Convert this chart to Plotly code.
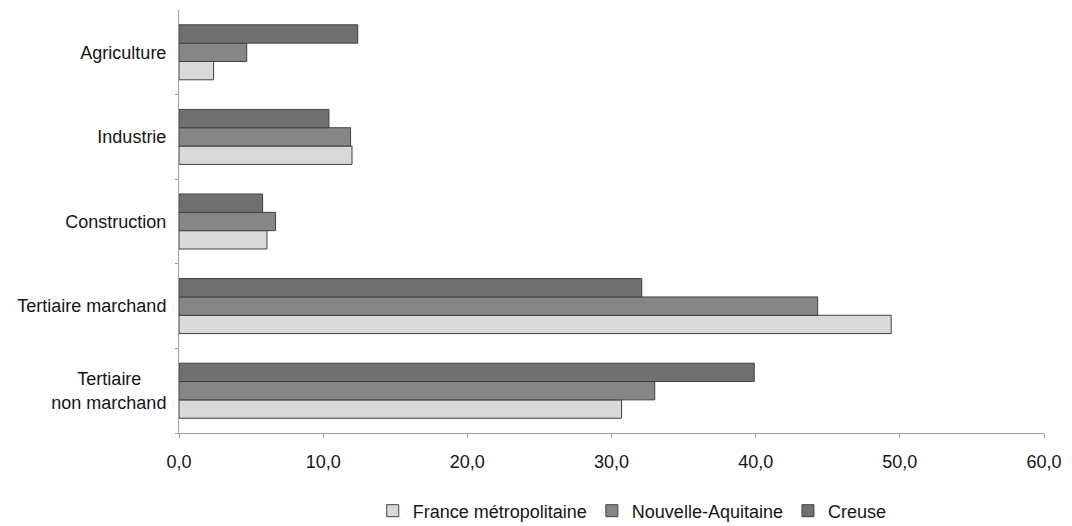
import plotly.graph_objects as go

categories = ["Agriculture", "Industrie", "Construction", "Tertiaire marchand", "Tertiaire non marchand"]
cat_labels = ["Agriculture", "Industrie", "Construction", "Tertiaire marchand",
              "Tertiaire\u00a0\u00a0\u00a0\u00a0\u00a0<br>non marchand"]
france = [2.4, 12.0, 6.1, 49.4, 30.7]
nouvelle_aquitaine = [4.7, 11.9, 6.7, 44.3, 33.0]
creuse = [12.4, 10.4, 5.8, 32.1, 39.9]
x_ticks = [0, 10, 20, 30, 40, 50, 60]
x_ticklabels = ["0,0", "10,0", "20,0", "30,0", "40,0", "50,0", "60,0"]

series = [
    ("France métropolitaine", france, "#d9d9d9"),
    ("Nouvelle-Aquitaine", nouvelle_aquitaine, "#868686"),
    ("Creuse", creuse, "#707070"),
]

fig = go.Figure()
for name, vals, col in series:
    fig.add_trace(go.Bar(
        y=categories, x=vals, name=name, orientation="h",
        marker=dict(color=col, line=dict(color="#404040", width=1)),
    ))

fig.update_layout(
    width=1072, height=526,
    margin=dict(l=179, r=26, t=10, b=93),
    paper_bgcolor="white", plot_bgcolor="white",
    barmode="group", bargap=0.35, bargroupgap=0,
    font=dict(family="Liberation Sans, Arial, sans-serif", size=18, color="#151515"),
    legend=dict(orientation="h", x=0.524, xanchor="center",
                yref="container", y=1 - 511 / 526, yanchor="middle",
                font=dict(size=18), traceorder="normal", itemwidth=30),
    xaxis=dict(range=[0, 60], tickvals=x_ticks, ticktext=x_ticklabels,
               showgrid=False, zeroline=False, showline=True, linecolor="#a0a0a0", linewidth=1,
               ticks="outside", ticklen=4, tickcolor="#a0a0a0", ticklabelstandoff=8,
               tickfont=dict(size=18, color="#151515")),
    yaxis=dict(categoryorder="array", categoryarray=categories[::-1],
               ticktext=cat_labels, tickvals=categories,
               showgrid=False, zeroline=False, showline=True, linecolor="#a0a0a0", linewidth=1,
               ticks="outside", tickson="boundaries", ticklen=3, tickcolor="#a0a0a0",
               ticklabelstandoff=8,
               tickfont=dict(size=18, color="#151515")),
)

fig.write_html("out.html")
